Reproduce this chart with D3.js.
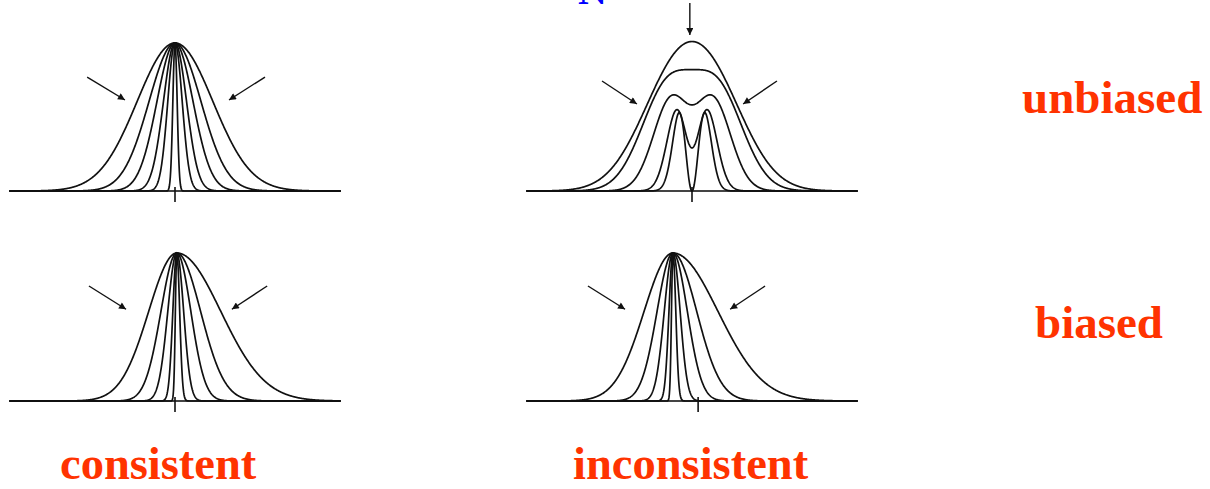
<!DOCTYPE html>
<html>
<head>
<meta charset="utf-8">
<script src="https://cdn.jsdelivr.net/npm/d3@7"></script>
<style>
  body { margin: 0; background: #fff; }
  svg { display: block; }
</style>
</head>
<body>
<svg id="chart" width="1210" height="489"></svg>
<script>
// x in spread units (0 = true value), y as share of the tallest peak

// unbiased + consistent: normal curves, same peak, shrinking spread
const ucSigma = [1.05, 0.72, 0.5, 0.32, 0.2, 0.06];

// unbiased + inconsistent: (dip + u^2) * exp(-u^2/2), scaled to its peak
const uiSpread = [1.0, 0.78, 0.56, 0.34, 0.25];
const uiDip = [6, 2, 1.2, 0.5, 0];
const uiPeak = [1.01, 0.82, 0.65, 0.55, 0.53];

// biased: skewed curves (left / right spread around a mode)
const bcMode = 0.05;
const bcLeft = [0.78, 0.44, 0.25, 0.11, 0.04];
const bcRight = [1.22, 0.66, 0.39, 0.19, 0.08];

const biMode = -0.53;
const biTick = 0.17;
const biLeft = [0.8, 0.44, 0.24, 0.11, 0.04];
const biRight = [1.25, 0.66, 0.4, 0.2, 0.08];

// arrows: [x1, y1, x2, y2] in data units
const ucArrows = [[-2.44, 0.77, -1.39, 0.615], [2.5, 0.77, 1.5, 0.615]];
const uiArrows = [[-2.5, 0.743, -1.53, 0.588], [2.36, 0.743, 1.42, 0.588], [-0.06, 1.27, -0.06, 1.054]];
const bcArrows = [[-2.39, 0.777, -1.36, 0.62], [2.56, 0.777, 1.58, 0.62]];
const biArrows = [[-2.89, 0.777, -1.86, 0.62], [2.03, 0.777, 1.06, 0.62]];

const rowLabels = ["unbiased", "biased"];
const colLabels = ["consistent", "inconsistent"];

const xs = d3.range(-4.6, 4.6001, 0.01);

function normalCurve(s) {
  return xs.map(x => [x, Math.exp(-x * x / (2 * s * s))]);
}
function dipCurve(s, c, h) {
  const raw = xs.map(x => { const u = x / s; return (c + u * u) * Math.exp(-u * u / 2); });
  const m = d3.max(raw);
  return xs.map((x, i) => [x, h * raw[i] / m]);
}
function skewCurve(m, sl, sr) {
  return xs.map(x => {
    const s = x < m ? sl : sr;
    return [x, Math.exp(-(x - m) * (x - m) / (2 * s * s))];
  });
}

const panels = [
  { cx: 175, base: 191, ext: [-4.5, 4.43], tick: 0,
    curves: ucSigma.map(s => normalCurve(s)), arrows: ucArrows },
  { cx: 692, base: 191, ext: [-4.3, 4.33], tick: 0,
    curves: uiSpread.map((s, i) => dipCurve(s, uiDip[i], uiPeak[i])), arrows: uiArrows },
  { cx: 175, base: 401, ext: [-4.5, 4.43], tick: 0,
    curves: bcLeft.map((s, i) => skewCurve(bcMode, s, bcRight[i])), arrows: bcArrows },
  { cx: 692, base: 401, ext: [-4.3, 4.33], tick: biTick,
    curves: biLeft.map((s, i) => skewCurve(biMode, s, biRight[i])), arrows: biArrows }
];

const unit = 36, height = 148;
const svg = d3.select("#chart");

svg.append("defs").append("marker")
  .attr("id", "head")
  .attr("viewBox", "0 0 10 10")
  .attr("refX", 10).attr("refY", 5)
  .attr("markerWidth", 10).attr("markerHeight", 7)
  .attr("markerUnits", "userSpaceOnUse")
  .attr("orient", "auto")
  .append("path").attr("d", "M0,0L10,5L0,10z").attr("fill", "#111");

panels.forEach(p => {
  const x = d3.scaleLinear().domain([-1, 1]).range([p.cx - unit, p.cx + unit]);
  const y = d3.scaleLinear().domain([0, 1]).range([p.base, p.base - height]);
  const g = svg.append("g");
  const line = d3.line().x(d => x(d[0])).y(d => y(d[1]));

  g.append("line")
    .attr("x1", x(p.ext[0])).attr("x2", x(p.ext[1]))
    .attr("y1", y(0)).attr("y2", y(0))
    .attr("stroke", "#444").attr("stroke-width", 2);

  g.selectAll("path.curve").data(p.curves).join("path")
    .attr("class", "curve")
    .attr("d", line)
    .attr("fill", "none").attr("stroke", "#111").attr("stroke-width", 1.7);

  g.append("line")
    .attr("x1", x(p.tick)).attr("x2", x(p.tick))
    .attr("y1", y(0) - 4).attr("y2", y(0) + 11)
    .attr("stroke", "#111").attr("stroke-width", 1.6);

  g.selectAll("line.arrow").data(p.arrows).join("line")
    .attr("class", "arrow")
    .attr("x1", d => x(d[0])).attr("y1", d => y(d[1]))
    .attr("x2", d => x(d[2])).attr("y2", d => y(d[3]))
    .attr("stroke", "#111").attr("stroke-width", 1.4)
    .attr("marker-end", "url(#head)");
});

const labelFont = "'Liberation Serif', 'Times New Roman', serif";
svg.selectAll("text.row").data(rowLabels).join("text")
  .attr("class", "row")
  .attr("x", (d, i) => i === 0 ? 1022 : 1035)
  .attr("y", (d, i) => i === 0 ? 113 : 338)
  .attr("font-family", labelFont).attr("font-weight", "bold")
  .attr("font-size", 47).attr("fill", "#ff3300")
  .text(d => d);

svg.selectAll("text.col").data(colLabels).join("text")
  .attr("class", "col")
  .attr("x", (d, i) => i === 0 ? 60 : 573)
  .attr("y", 479)
  .attr("font-family", labelFont).attr("font-weight", "bold")
  .attr("font-size", 46.5).attr("fill", "#ff3300")
  .text(d => d);

// clipped blue letter at the top edge, as in the source slide
svg.append("text")
  .attr("x", 578).attr("y", 4)
  .attr("font-family", labelFont).attr("font-weight", "bold")
  .attr("font-size", 40).attr("fill", "#0000ff")
  .text("N");
</script>
</body>
</html>
